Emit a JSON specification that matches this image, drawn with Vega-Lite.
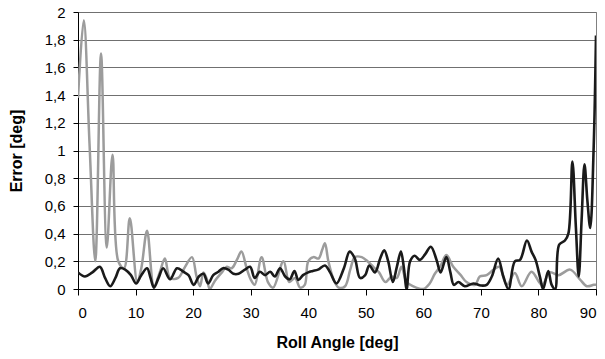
{
  "$schema": "https://vega.github.io/schema/vega-lite/v6.json",
  "width": 518,
  "height": 277,
  "autosize": "none",
  "padding": {"left": 78, "top": 12, "right": 9, "bottom": 70},
  "background": "white",
  "config": {
    "view": {"stroke": "#808080", "strokeWidth": 1},
    "font": "Liberation Sans",
    "axis": {"labelFont": "Liberation Sans", "titleFont": "Liberation Sans"}
  },
  "datasets": {
    "black": [
      {"x":0,"y":0.12},{"x":1.2,"y":0.09},{"x":2.5,"y":0.12},{"x":3.8,"y":0.16},{"x":4.7,"y":0.08},{"x":5.6,"y":0.02},{"x":6.5,"y":0.08},{"x":7.3,"y":0.15},{"x":8.2,"y":0.14},{"x":9.2,"y":0.1},{"x":10.1,"y":0.04},{"x":11,"y":0.1},{"x":12,"y":0.15},{"x":12.6,"y":0.08},{"x":13.2,"y":0.01},{"x":14,"y":0.08},{"x":14.8,"y":0.15},{"x":16,"y":0.07},{"x":17.2,"y":0.15},{"x":18.3,"y":0.125},{"x":19.2,"y":0.1},{"x":20.1,"y":0.03},{"x":21,"y":0.09},{"x":21.8,"y":0.11},{"x":22.6,"y":0.04},{"x":23.5,"y":0.1},{"x":24.4,"y":0.125},{"x":25.2,"y":0.15},{"x":26.1,"y":0.14},{"x":27,"y":0.11},{"x":27.9,"y":0.11},{"x":29,"y":0.14},{"x":29.9,"y":0.16},{"x":30.7,"y":0.08},{"x":31.6,"y":0.125},{"x":32.5,"y":0.1},{"x":33.4,"y":0.125},{"x":34.2,"y":0.09},{"x":35.1,"y":0.15},{"x":36,"y":0.09},{"x":36.8,"y":0.07},{"x":37.6,"y":0.13},{"x":38.3,"y":0.065},{"x":39.1,"y":0.1},{"x":40,"y":0.12},{"x":40.8,"y":0.13},{"x":41.7,"y":0.14},{"x":42.9,"y":0.17},{"x":43.8,"y":0.12},{"x":44.9,"y":0.04},{"x":46.2,"y":0.15},{"x":47.2,"y":0.27},{"x":48.1,"y":0.22},{"x":49,"y":0.08},{"x":49.9,"y":0.1},{"x":50.6,"y":0.17},{"x":51.6,"y":0.12},{"x":52.5,"y":0.22},{"x":53.2,"y":0.28},{"x":53.9,"y":0.2},{"x":54.7,"y":0.05},{"x":55.4,"y":0.16},{"x":56.1,"y":0.27},{"x":56.6,"y":0.16},{"x":57.1,"y":0.0},{"x":57.7,"y":0.2},{"x":58.5,"y":0.24},{"x":59.4,"y":0.21},{"x":60.3,"y":0.25},{"x":61.3,"y":0.305},{"x":62.3,"y":0.21},{"x":63,"y":0.12},{"x":64,"y":0.23},{"x":64.7,"y":0.12},{"x":65.3,"y":0.03},{"x":66.1,"y":0.05},{"x":67.2,"y":0.02},{"x":68.7,"y":0.04},{"x":70,"y":0.025},{"x":71,"y":0.03},{"x":71.9,"y":0.09},{"x":73,"y":0.22},{"x":73.9,"y":0.09},{"x":74.8,"y":0.0},{"x":75.9,"y":0.2},{"x":76.8,"y":0.21},{"x":78,"y":0.35},{"x":78.8,"y":0.27},{"x":79.5,"y":0.21},{"x":80.3,"y":0.08},{"x":80.8,"y":0.0},{"x":81.7,"y":0.13},{"x":82.3,"y":0.03},{"x":82.9,"y":0.0},{"x":83.6,"y":0.32},{"x":84.6,"y":0.35},{"x":85.2,"y":0.4},{"x":85.9,"y":0.92},{"x":86.5,"y":0.45},{"x":87,"y":0.09},{"x":87.5,"y":0.5},{"x":88,"y":0.9},{"x":88.5,"y":0.64},{"x":89,"y":0.44},{"x":89.6,"y":1.03},{"x":90,"y":1.83}
    ],
    "gray": [
      {"x":0,"y":1.38},{"x":1,"y":1.94},{"x":2,"y":1.05},{"x":3,"y":0.2},{"x":4,"y":1.7},{"x":5,"y":0.3},{"x":6,"y":0.97},{"x":7,"y":0.2},{"x":8,"y":0.15},{"x":9,"y":0.51},{"x":10.3,"y":0.05},{"x":11,"y":0.15},{"x":12,"y":0.42},{"x":13.2,"y":0.02},{"x":14.2,"y":0.12},{"x":15.1,"y":0.22},{"x":16,"y":0.08},{"x":17.4,"y":0.08},{"x":18.6,"y":0.16},{"x":19.8,"y":0.23},{"x":20.6,"y":0.09},{"x":21.2,"y":0.02},{"x":21.8,"y":0.12},{"x":22.4,"y":0.07},{"x":22.9,"y":0.0},{"x":23.8,"y":0.06},{"x":25,"y":0.12},{"x":25.8,"y":0.16},{"x":26.7,"y":0.15},{"x":27.6,"y":0.21},{"x":28.4,"y":0.27},{"x":29.3,"y":0.15},{"x":30,"y":0.07},{"x":30.7,"y":0.03},{"x":31.9,"y":0.23},{"x":33,"y":0.05},{"x":33.9,"y":0.01},{"x":35.7,"y":0.2},{"x":36.7,"y":0.05},{"x":37.7,"y":0.08},{"x":38.6,"y":0.01},{"x":39.4,"y":0.03},{"x":40,"y":0.2},{"x":40.9,"y":0.23},{"x":41.8,"y":0.22},{"x":42.4,"y":0.28},{"x":42.9,"y":0.33},{"x":43.5,"y":0.2},{"x":44.4,"y":0.07},{"x":45.3,"y":0.01},{"x":46.4,"y":0.02},{"x":47.3,"y":0.14},{"x":48.1,"y":0.23},{"x":49.3,"y":0.23},{"x":50.3,"y":0.2},{"x":51.3,"y":0.16},{"x":52.3,"y":0.12},{"x":53.4,"y":0.05},{"x":54.5,"y":0.09},{"x":55.4,"y":0.08},{"x":56.2,"y":0.16},{"x":57.1,"y":0.05},{"x":58.2,"y":0.02},{"x":60,"y":0.0},{"x":61.1,"y":0.04},{"x":62,"y":0.11},{"x":62.9,"y":0.16},{"x":64,"y":0.245},{"x":65.2,"y":0.16},{"x":66.5,"y":0.1},{"x":67.5,"y":0.05},{"x":69,"y":0.03},{"x":69.8,"y":0.09},{"x":71,"y":0.1},{"x":72.2,"y":0.14},{"x":73.2,"y":0.16},{"x":74.5,"y":0.03},{"x":75.9,"y":0.115},{"x":77.1,"y":0.02},{"x":78.8,"y":0.125},{"x":80.6,"y":0.03},{"x":82,"y":0.12},{"x":83.5,"y":0.1},{"x":85.5,"y":0.14},{"x":87.2,"y":0.07},{"x":88.4,"y":0.02},{"x":89.6,"y":0.03},{"x":90,"y":0.03}
    ]
  },
  "encoding": {
    "x": {
      "field": "x", "type": "quantitative",
      "scale": {"domain": [0, 90], "nice": false, "zero": false},
      "axis": {
        "title": "Roll Angle [deg]",
        "values": [0,10,20,30,40,50,60,70,80,90],
        "grid": false,
        "domainColor": "#000000", "tickColor": "#000000",
        "tickSize": 6,
        "labelFontSize": 15, "labelColor": "#000000", "labelPadding": 10,
        "titleFontSize": 16, "titleFontWeight": "bold", "titleColor": "#000000", "titlePadding": 14
      }
    },
    "y": {
      "field": "y", "type": "quantitative",
      "scale": {"domain": [0, 2], "nice": false, "clamp": true},
      "axis": {
        "title": "Error [deg]",
        "values": [0,0.2,0.4,0.6,0.8,1,1.2,1.4,1.6,1.8,2],
        "format": ".1~f",
        "labelExpr": "replace(datum.label, '.', ',')",
        "grid": true, "gridColor": "#707070", "gridWidth": 1, "gridOpacity": 1,
        "domainColor": "#000000", "tickColor": "#000000",
        "tickSize": 5,
        "labelFontSize": 15, "labelColor": "#000000", "labelPadding": 8,
        "titleFontSize": 16, "titleFontWeight": "bold", "titleColor": "#000000", "titlePadding": 20
      }
    }
  },
  "layer": [
    {
      "data": {"name": "gray"},
      "mark": {"type": "line", "interpolate": "catmull-rom", "color": "#9c9c9c", "strokeWidth": 2.5, "clip": true}
    },
    {
      "data": {"name": "black"},
      "mark": {"type": "line", "interpolate": "catmull-rom", "color": "#1a1a1a", "strokeWidth": 2.6, "clip": true}
    }
  ]
}
